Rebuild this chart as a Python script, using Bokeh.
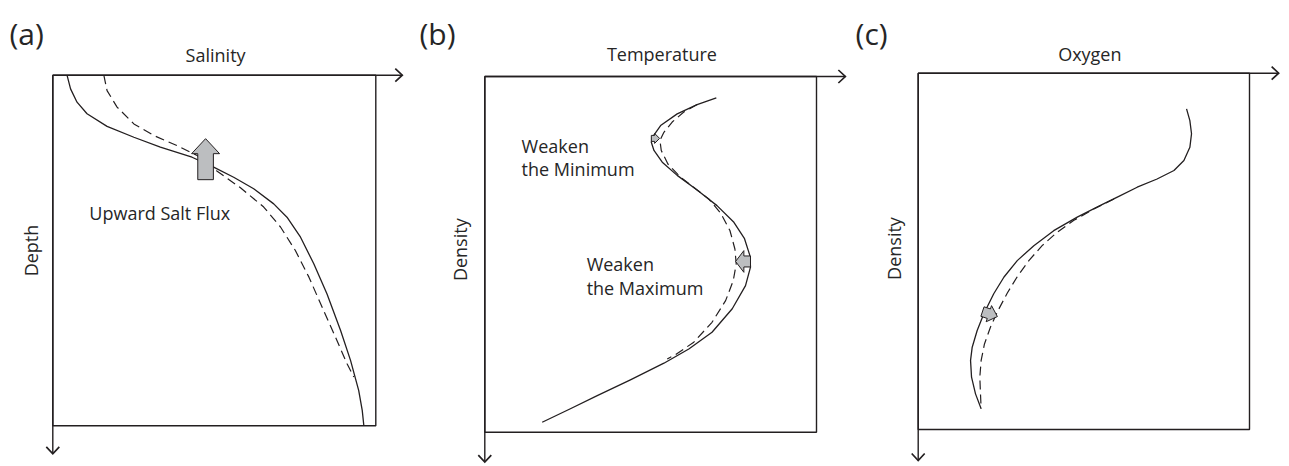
import math
from bokeh.plotting import figure
from bokeh.models import Range1d
from bokeh.layouts import row
from bokeh.embed import file_html
from bokeh.resources import INLINE
from bokeh.core.properties import value

# ---------------- data (normalised box units: x 0..1 left->right, y 0..1 top->bottom) -------------
panel_labels = ["(a)", "(b)", "(c)"]
x_titles = ["Salinity", "Temperature", "Oxygen"]
y_titles = ["Depth", "Density", "Density"]

sal_solid_x = [0.044, 0.055, 0.075, 0.106, 0.168, 0.251, 0.333, 0.431, 0.498, 0.560, 0.622,
               0.684, 0.725, 0.767, 0.808, 0.849, 0.891, 0.922, 0.947, 0.958, 0.963]
sal_solid_depth = [0.000, 0.039, 0.077, 0.110, 0.146, 0.177, 0.205, 0.234, 0.262, 0.291, 0.324,
                   0.367, 0.405, 0.462, 0.538, 0.624, 0.728, 0.814, 0.899, 0.956, 1.000]
sal_dashed_x = [0.158, 0.168, 0.199, 0.251, 0.313, 0.385, 0.447, 0.509, 0.581, 0.653, 0.705,
                0.751, 0.793, 0.834, 0.875, 0.911, 0.932]
sal_dashed_depth = [0.000, 0.044, 0.091, 0.139, 0.172, 0.201, 0.229, 0.274, 0.321, 0.376, 0.433,
                    0.500, 0.576, 0.662, 0.747, 0.823, 0.861]

temp_solid_x = [0.698, 0.640, 0.580, 0.530, 0.505, 0.502, 0.510, 0.535, 0.580, 0.640, 0.700,
                0.751, 0.783, 0.799, 0.801, 0.786, 0.746, 0.685, 0.615, 0.540, 0.439, 0.339,
                0.258, 0.173]
temp_solid_density = [0.060, 0.079, 0.105, 0.138, 0.171, 0.185, 0.208, 0.241, 0.278, 0.319, 0.363,
                      0.410, 0.456, 0.503, 0.536, 0.588, 0.653, 0.719, 0.766, 0.806, 0.853, 0.897,
                      0.934, 0.972]
temp_dashed_x = [0.640, 0.600, 0.565, 0.540, 0.528, 0.532, 0.552, 0.590, 0.640, 0.675, 0.711,
                 0.739, 0.754, 0.758, 0.749, 0.726, 0.685, 0.630, 0.575, 0.550]
temp_dashed_density = [0.079, 0.100, 0.128, 0.157, 0.180, 0.208, 0.246, 0.283, 0.319, 0.344, 0.384,
                       0.433, 0.485, 0.527, 0.574, 0.630, 0.691, 0.747, 0.782, 0.794]

oxy_solid_x = [0.810, 0.820, 0.825, 0.820, 0.802, 0.772, 0.721, 0.661, 0.601, 0.550, 0.480,
               0.409, 0.349, 0.299, 0.259, 0.228, 0.198, 0.178, 0.163, 0.158, 0.161, 0.173, 0.190]
oxy_solid_density = [0.100, 0.133, 0.170, 0.208, 0.245, 0.273, 0.297, 0.320, 0.348, 0.371, 0.404,
                     0.442, 0.484, 0.526, 0.572, 0.619, 0.675, 0.722, 0.769, 0.806, 0.853, 0.900, 0.942]
oxy_dashed_x = [0.591, 0.530, 0.470, 0.420, 0.374, 0.334, 0.299, 0.269, 0.241, 0.218, 0.200,
                0.190, 0.186, 0.188, 0.190]
oxy_dashed_density = [0.353, 0.381, 0.413, 0.446, 0.484, 0.526, 0.571, 0.617, 0.666, 0.713, 0.760,
                      0.806, 0.853, 0.900, 0.942]

# gray change arrows: base -> tip
sal_arrow_base = [(0.473, 0.298)]
sal_arrow_tip = [(0.473, 0.181)]
temp_arrow_base = [(0.502, 0.174), (0.801, 0.520)]
temp_arrow_tip = [(0.527, 0.174), (0.756, 0.520)]
oxy_arrow_base = [(0.194, 0.669)]
oxy_arrow_tip = [(0.239, 0.683)]

sal_notes = ["Upward Salt Flux"]
sal_notes_x = [0.113]
sal_notes_y = [0.394]
temp_notes = ["Weaken", "the Minimum", "Weaken", "the Maximum"]
temp_notes_x = [0.111, 0.111, 0.307, 0.307]
temp_notes_y = [0.194, 0.259, 0.527, 0.596]

# ---------------- style / layout ----------------
INK = "#231f20"
GRAY = "#bcbec0"
TXT = "#262626"
FONT = value("Open Sans")
H = 466


def chevron(tip, direction, bw, bh, length=7.0, half=6.5):
    tx, ty = tip
    if direction == "right":
        xs = [tx - length / bw, tx, tx - length / bw]
        ys = [ty - half / bh, ty, ty + half / bh]
    else:  # down (y grows downward)
        xs = [tx - half / bw, tx, tx + half / bw]
        ys = [ty - length / bh, ty, ty - length / bh]
    return xs, ys


def block_arrow(base, tip, bw, bh, ws, wh, hl):
    bx, by = base[0] * bw, base[1] * bh
    tx, ty = tip[0] * bw, tip[1] * bh
    dx, dy = tx - bx, ty - by
    L = math.hypot(dx, dy)
    ux, uy = dx / L, dy / L
    nx, ny = -uy, ux
    hx, hy = tx - hl * ux, ty - hl * uy
    pts = [
        (bx + nx * ws / 2, by + ny * ws / 2),
        (hx + nx * ws / 2, hy + ny * ws / 2),
        (hx + nx * wh / 2, hy + ny * wh / 2),
        (tx, ty),
        (hx - nx * wh / 2, hy - ny * wh / 2),
        (hx - nx * ws / 2, hy - ny * ws / 2),
        (bx - nx * ws / 2, by - ny * ws / 2),
    ]
    return [p[0] / bw for p in pts], [p[1] / bh for p in pts]


def make_panel(width, left, top, bw, bh, xlen, ylen, label, label_xy, xtitle, xtitle_xy,
               ytitle, ytitle_xy, curves, arrows, notes):
    p = figure(width=width, height=H, output_backend="svg", toolbar_location=None,
               x_range=Range1d(-left / bw, (width - left) / bw),
               y_range=Range1d((H - top) / bh, -top / bh),
               x_axis_type=None, y_axis_type=None, min_border=0,
               outline_line_color=None, background_fill_color="white",
               border_fill_color="white")
    p.grid.visible = False

    # box and axes
    p.quad(left=[0], right=[1], top=[0], bottom=[1], fill_color=None,
           line_color=INK, line_width=1.4)
    p.line([0, xlen], [0, 0], line_color=INK, line_width=1.4)
    p.line([0, 0], [0, ylen], line_color=INK, line_width=1.4)
    cx, cy = chevron((xlen, 0), "right", bw, bh)
    p.line(cx, cy, line_color=INK, line_width=1.7, line_join="miter")
    cx, cy = chevron((0, ylen), "down", bw, bh)
    p.line(cx, cy, line_color=INK, line_width=1.7, line_join="miter")

    # curves
    (sx, sy), (dx_, dy_) = curves
    p.line(sx, sy, line_color=INK, line_width=1.3, line_join="round")
    p.line(dx_, dy_, line_color=INK, line_width=1.2, line_dash="9 5", line_join="round")

    # block arrows
    xs_all, ys_all = [], []
    for base, tip, ws, wh, hl in arrows:
        xs, ys = block_arrow(base, tip, bw, bh, ws, wh, hl)
        xs_all.append(xs)
        ys_all.append(ys)
    if xs_all:
        p.patches(xs_all, ys_all, fill_color=GRAY, line_color=INK, line_width=1.0,
                  line_join="miter")

    # texts
    p.text(x=[label_xy[0]], y=[label_xy[1]], text=[label], text_font=FONT,
           text_font_size="30px", text_color=TXT, text_align="left",
           text_baseline="alphabetic")
    p.text(x=[xtitle_xy[0]], y=[xtitle_xy[1]], text=[xtitle], text_font=FONT,
           text_font_size="18px", text_color=TXT, text_align="center",
           text_baseline="alphabetic")
    p.text(x=[ytitle_xy[0]], y=[ytitle_xy[1]], text=[ytitle], text_font=FONT,
           text_font_size="18px", text_color=TXT, text_align="center",
           text_baseline="middle", angle=math.pi / 2)
    if notes:
        nt, nx_, ny_ = notes
        p.text(x=nx_, y=ny_, text=nt, text_font=FONT, text_font_size="18px",
               text_color=TXT, text_align="left", text_baseline="alphabetic")
    return p


pa = make_panel(416, 52.3, 74.7, 323.0, 350.6, 1.082, 1.080,
                panel_labels[0], (-0.134, -0.118), x_titles[0], (0.504, -0.058),
                y_titles[0], (-0.069, 0.50),
                ((sal_solid_x, sal_solid_depth), (sal_dashed_x, sal_dashed_depth)),
                [(b, t, 15.6, 28.0, 15.0) for b, t in zip(sal_arrow_base, sal_arrow_tip)],
                (sal_notes, sal_notes_x, sal_notes_y))

temp_sizes = [(6.0, 10.0, 5.0), (11.0, 21.7, 8.3)]
pb = make_panel(436, 68.3, 76.0, 331.7, 355.7, 1.087, 1.084,
                panel_labels[1], (-0.197, -0.120), x_titles[1], (0.534, -0.064),
                y_titles[1], (-0.074, 0.487),
                ((temp_solid_x, temp_solid_density), (temp_dashed_x, temp_dashed_density)),
                [(b, t) + s for b, t, s in zip(temp_arrow_base, temp_arrow_tip, temp_sizes)],
                (temp_notes, temp_notes_x, temp_notes_y))

pc = make_panel(437, 65.7, 72.7, 331.3, 356.3, 1.088, 1.087,
                panel_labels[2], (-0.189, -0.111), x_titles[2], (0.518, -0.054),
                y_titles[2], (-0.074, 0.492),
                ((oxy_solid_x, oxy_solid_density), (oxy_dashed_x, oxy_dashed_density)),
                [(b, t, 10.0, 17.0, 9.0) for b, t in zip(oxy_arrow_base, oxy_arrow_tip)],
                None)

layout = row(pa, pb, pc, spacing=0)
open("out.html", "w").write(file_html(layout, INLINE))
